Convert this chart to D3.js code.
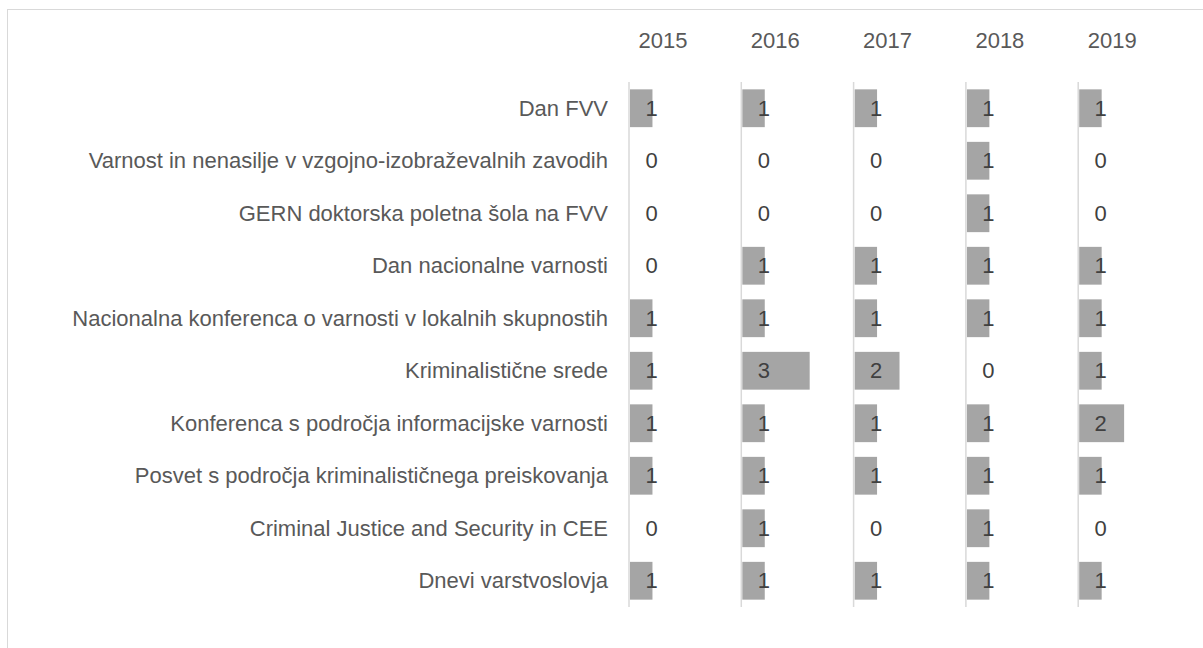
<!DOCTYPE html>
<html><head><meta charset="utf-8">
<script src="https://cdn.jsdelivr.net/npm/d3@7"></script>
<style>body{margin:0;background:#fff;}svg{display:block;font-family:"Liberation Sans",Arial,sans-serif;}</style>
</head><body>
<svg id="c" width="1203" height="648"></svg>
<script>
const categories = [
  "Dan FVV",
  "Varnost in nenasilje v vzgojno-izobraževalnih zavodih",
  "GERN doktorska poletna šola na FVV",
  "Dan nacionalne varnosti",
  "Nacionalna konferenca o varnosti v lokalnih skupnostih",
  "Kriminalistične srede",
  "Konferenca s področja informacijske varnosti",
  "Posvet s področja kriminalističnega preiskovanja",
  "Criminal Justice and Security in CEE",
  "Dnevi varstvoslovja"
];
const years = ["2015","2016","2017","2018","2019"];
const v2015 = [1,0,0,0,1,1,1,1,0,1];
const v2016 = [1,0,0,1,1,3,1,1,1,1];
const v2017 = [1,0,0,1,1,2,1,1,0,1];
const v2018 = [1,1,1,1,1,0,1,1,1,1];
const v2019 = [1,0,0,1,1,1,2,1,0,1];
const series = [v2015, v2016, v2017, v2018, v2019];

const svg = d3.select("#c");
svg.append("rect").attr("x",7.5).attr("y",9.5).attr("width",1200).attr("height",660)
  .attr("fill","#fff").attr("stroke","#d9d9d9").attr("stroke-width",1);

const y = d3.scaleBand().domain(categories).range([82,607]).paddingInner(0.28).paddingOuter(0.14);
const px = d3.scaleBand().domain(years).range([629, 629+5*112.3]).padding(0);
const x = d3.scaleLinear().domain([0,5]).range([0, px.bandwidth()]);

// category labels
svg.append("g").selectAll("text").data(categories).join("text")
  .attr("x",608).attr("y",d=>y(d)+y.bandwidth()/2).attr("dy","0.35em")
  .attr("text-anchor","end").attr("font-size",22).attr("fill","#595959").text(d=>d);

years.forEach((yr,i)=>{
  const g = svg.append("g").attr("transform",`translate(${px(yr)},0)`);
  g.append("text").attr("x",34).attr("y",48).attr("text-anchor","middle")
    .attr("font-size",22).attr("fill","#595959").text(yr);
  g.selectAll("rect").data(series[i]).join("rect")
    .attr("x",1).attr("y",(d,j)=>y(categories[j]))
    .attr("width",d=>x(d)).attr("height",y.bandwidth()).attr("fill","#a5a5a5");
  g.append("line").attr("x1",0).attr("x2",0).attr("y1",82).attr("y2",607)
    .attr("stroke","#d9d9d9").attr("stroke-width",1.5);
  g.selectAll("text.v").data(series[i]).join("text").attr("class","v")
    .attr("x",22.5).attr("y",(d,j)=>y(categories[j])+y.bandwidth()/2).attr("dy","0.35em")
    .attr("text-anchor","middle").attr("font-size",22).attr("fill","#404040").text(d=>d);
});
</script>
</body></html>
